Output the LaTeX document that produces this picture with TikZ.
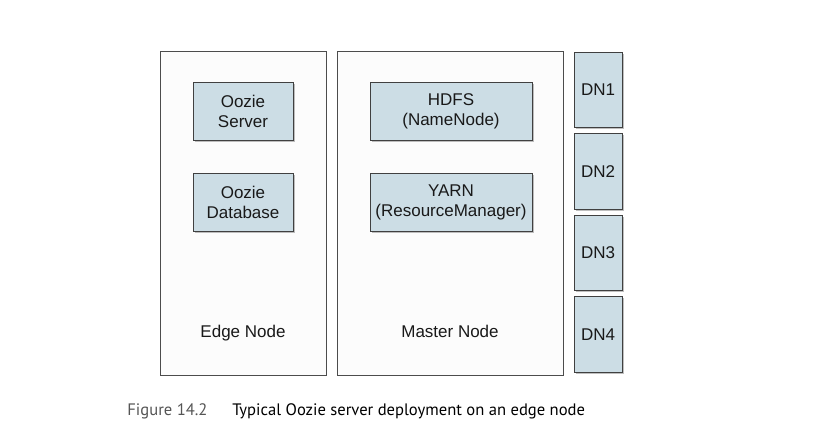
\documentclass[tikz,border=0pt]{standalone}
\usepackage{fontspec}
\setmainfont{Liberation Sans}
\newfontfamily\capfont{PT Sans}
\usetikzlibrary{shadows}
\definecolor{boxblue}{HTML}{CCDDE5}
\definecolor{capgray}{HTML}{555555}

\begin{document}
\begin{tikzpicture}[x=1pt, y=-1pt, line width=0.8pt,
	every node/.style={font=\fontsize{17}{20}\selectfont, text=black!90},
	outer/.style={rectangle,draw=black!70,fill=white!98!gray,inner sep=0},
	inner/.style={rectangle,draw=black!75,fill=boxblue,inner sep=0,align=center,
		drop shadow={shadow xshift=1.5pt,shadow yshift=-1.8pt,opacity=0.5}},
	caption/.style={anchor=base west,inner sep=0,font=\capfont\fontsize{16.6}{20}\selectfont}]
	\useasboundingbox (0,0) rectangle (820,442);
	
	\node (E) at (243,213) [outer, minimum width=166, minimum height=324] {};
	\node (M) at (450.5,213) [outer, minimum width=226, minimum height=324] {};
	
	\node (OS) at (243,111) [inner, minimum width=100, minimum height=58] {Oozie\\Server};
	\node (OD) at (243,202) [inner, minimum width=100, minimum height=58] {Oozie\\Database};
	\node (HD) at (451,111) [inner, minimum width=162, minimum height=58] {HDFS\\(NameNode)};
	\node (YA) at (451,202) [inner, minimum width=162, minimum height=58] {YARN\\(ResourceManager)};
	
	\node (EL) at (243,337) [anchor=base] {Edge Node};
	\node (ML) at (450,337) [anchor=base] {Master Node};
	
	\node (D1) at (598,89.75) [inner, minimum width=48, minimum height=75.5] {DN1};
	\node (D2) at (598,171.25) [inner, minimum width=48, minimum height=75.5] {DN2};
	\node (D3) at (598,252.75) [inner, minimum width=48, minimum height=75.5] {DN3};
	\node (D4) at (598,334.25) [inner, minimum width=48, minimum height=75.5] {DN4};
	
	\node (FN) at (127,415) [caption, text=capgray] {Figure 14.2};
	\node (FT) at (232,415) [caption, text=black] {Typical Oozie server deployment on an edge node};
	
\end{tikzpicture}
\end{document}
